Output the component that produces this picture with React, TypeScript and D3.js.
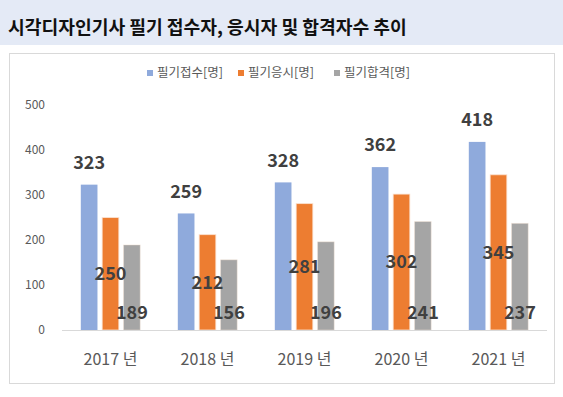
import React from "react";
import * as d3 from "d3";

const width = 563;
const height = 397;

const years = ["2017 년", "2018 년", "2019 년", "2020 년", "2021 년"];
const applied = [323, 259, 328, 362, 418];
const tested = [250, 212, 281, 302, 345];
const passed = [189, 156, 196, 241, 237];
const seriesNames = ["필기접수[명]", "필기응시[명]", "필기합격[명]"];
const colors = ["#8faadc", "#ed7d31", "#a5a5a5"];
const yTicks = [0, 100, 200, 300, 400, 500];

const font = "'Noto Sans CJK KR', 'Noto Sans', sans-serif";

const App = () => {
  const series = [applied, tested, passed];

  // x: categories, then bars inside each category
  const xScale = d3.scaleBand().domain(years).range([62, 547]);
  const inner = d3
    .scaleBand<number>()
    .domain([0, 1, 2])
    .range([0, xScale.bandwidth()])
    .paddingInner(0.22)
    .paddingOuter(0.88);

  const yScale = d3.scaleLinear().domain([0, 500]).range([330, 105]);

  const legendX = [147, 238, 334];

  return (
    <svg
      width={width}
      height={height}
      style={{ position: "absolute", left: 0, top: 0 }}
      fontFamily={font}
    >
      <rect x={0} y={0} width={width} height={45} fill="#e4eaf6" />
      <text x={8} y={34} fontSize={18.2} fontWeight="bold" fill="#111">
        시각디자인기사 필기 접수자, 응시자 및 합격자수 추이
      </text>

      <rect x={9.5} y={53.5} width={545} height={330} fill="#fff" stroke="#d9d9d9" />

      {/* legend */}
      {seriesNames.map((name, i) => (
        <g key={name}>
          <rect x={legendX[i]} y={70} width={6} height={6} fill={colors[i]} />
          <text x={legendX[i] + 10} y={77} fontSize={12.5} fill="#595959">
            {name}
          </text>
        </g>
      ))}

      {/* y axis labels */}
      {yTicks.map((t) => (
        <text
          key={t}
          x={45}
          y={yScale(t)}
          dy="0.35em"
          textAnchor="end"
          fontSize={12}
          fill="#595959"
        >
          {t}
        </text>
      ))}

      {/* bars */}
      {years.map((yr, ci) => (
        <g key={yr} transform={`translate(${xScale(yr)},0)`}>
          {series.map((s, si) => (
            <rect
              key={si}
              x={inner(si)}
              y={yScale(s[ci])}
              width={inner.bandwidth()}
              height={yScale(0) - yScale(s[ci])}
              fill={colors[si]}
              stroke={si === 0 ? "none" : "#fbe5d6"}
              strokeOpacity={si === 2 ? 0.4 : 0.8}
              strokeWidth={1}
            />
          ))}
        </g>
      ))}

      {/* axis line */}
      <line x1={62} x2={547} y1={330.5} y2={330.5} stroke="#d9d9d9" />

      {/* data labels */}
      {years.map((yr, ci) => {
        const x0 = xScale(yr)!;
        const cx = (si: number) => x0 + inner(si)! + inner.bandwidth() / 2;
        return (
          <g key={yr} fontSize={18} fontWeight="bold" fill="#404040" textAnchor="middle">
            <text x={cx(0)} y={yScale(applied[ci]) - 22} dy="0.35em">
              {applied[ci]}
            </text>
            <text x={cx(1)} y={(yScale(tested[ci]) + yScale(0)) / 2} dy="0.35em">
              {tested[ci]}
            </text>
            <text x={cx(2)} y={yScale(0) - 17} dy="0.35em">
              {passed[ci]}
            </text>
          </g>
        );
      })}

      {/* x labels */}
      {years.map((yr) => (
        <text
          key={yr}
          x={xScale(yr)! + xScale.bandwidth() / 2}
          y={359}
          dy="0.35em"
          textAnchor="middle"
          fontSize={16}
          fill="#595959"
        >
          {yr}
        </text>
      ))}
    </svg>
  );
};

export default App;
